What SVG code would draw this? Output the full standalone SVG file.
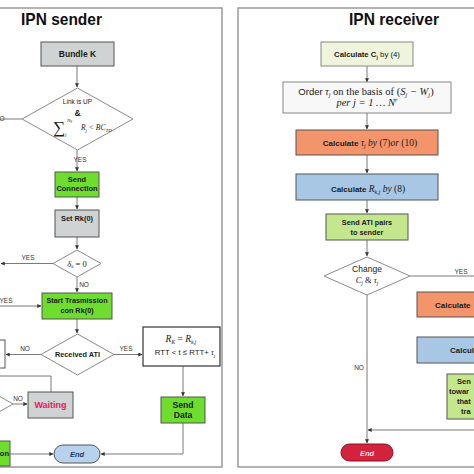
<svg xmlns="http://www.w3.org/2000/svg" width="474" height="474" viewBox="0 0 474 474">
<defs>
<marker id="ah" viewBox="0 0 6 6" refX="5.5" refY="3" markerWidth="4" markerHeight="4" orient="auto">
<path d="M0,0 L6,3 L0,6 z" fill="#333"/>
</marker>
<style>
.panel{fill:#fff;stroke:#9a9a9a;stroke-width:1.5}
.ln{fill:none;stroke:#7a7a7a;stroke-width:1}
.box{stroke:#555;stroke-width:1}
.gray{fill:#cfd3d3}
.green{fill:#6fdd2e}
.lgreen{fill:#c4e78e}
.pale{fill:#eef5dc}
.orange{fill:#f4946b}
.blue{fill:#a8c7e5}
.dia{fill:#fff;stroke:#8a8a8a;stroke-width:1}
.b{font-family:"Liberation Sans",Arial,sans-serif;font-weight:bold;fill:#1a1a1a;text-anchor:middle}
.r{font-family:"Liberation Sans",Arial,sans-serif;fill:#1a1a1a;text-anchor:middle}
.m{font-family:"Liberation Serif","Times New Roman",serif;font-style:italic;fill:#1a1a1a}
.lab{font-family:"Liberation Sans",Arial,sans-serif;font-size:6.5px;fill:#333;text-anchor:middle}
.title{font-family:"Liberation Sans",Arial,sans-serif;font-weight:bold;fill:#111}
</style>
</defs>
<rect width="474" height="474" fill="#fff"/>
<rect class="panel" x="-5" y="8" width="227" height="459"/>
<rect class="panel" x="238" y="8" width="245" height="459"/>
<text class="title" x="21" y="25" font-size="17" textLength="81" lengthAdjust="spacingAndGlyphs">IPN sender</text>
<text class="title" x="349" y="25" font-size="17" textLength="90" lengthAdjust="spacingAndGlyphs">IPN receiver</text>

<g id="connectors">
<path class="ln" d="M77,66 V87" marker-end="url(#ah)"/>
<path class="ln" d="M22,119 H-2"/>
<path class="ln" d="M77,150 V171" marker-end="url(#ah)"/>
<path class="ln" d="M77,197 V209" marker-end="url(#ah)"/>
<path class="ln" d="M77,237 V249" marker-end="url(#ah)"/>
<path class="ln" d="M53,263.5 H1" marker-end="url(#ah)"/>
<path class="ln" d="M77,277 V292" marker-end="url(#ah)"/>
<path class="ln" d="M-2,306 H41" marker-end="url(#ah)"/>
<path class="ln" d="M77,319 V333" marker-end="url(#ah)"/>
<path class="ln" d="M41,354.5 H6" marker-end="url(#ah)"/>
<path class="ln" d="M114,354.5 H142" marker-end="url(#ah)"/>
<path class="ln" d="M183,366 V396" marker-end="url(#ah)"/>
<path class="ln" d="M183,423 V454 H101" marker-end="url(#ah)"/>
<path class="ln" d="M10,454 H53" marker-end="url(#ah)"/>
<path class="ln" d="M51,392 V376 H-2"/>
<path class="ln" d="M13,404 H27" marker-end="url(#ah)"/>
<path class="ln" d="M367,66 V82" marker-end="url(#ah)"/>
<path class="ln" d="M367,113 V129" marker-end="url(#ah)"/>
<path class="ln" d="M367,155 V173" marker-end="url(#ah)"/>
<path class="ln" d="M367,200 V213" marker-end="url(#ah)"/>
<path class="ln" d="M367,240 V256" marker-end="url(#ah)"/>
<path class="ln" d="M410,276 H476"/>
<path class="ln" d="M367,295 V443" marker-end="url(#ah)"/>
<path class="ln" d="M476,430 H368" marker-end="url(#ah)"/>
<text class="lab" x="2" y="121">O</text>
<text class="lab" x="80" y="162">YES</text>
<text class="lab" x="28" y="260">YES</text>
<text class="lab" x="84" y="287">NO</text>
<text class="lab" x="6" y="303">YES</text>
<text class="lab" x="25" y="351">NO</text>
<text class="lab" x="126" y="351">YES</text>
<text class="lab" x="18" y="401">NO</text>
<text class="lab" x="461" y="274">YES</text>
<text class="lab" x="359" y="370">NO</text>
</g>

<g id="bundle">
<rect class="box gray" x="41" y="42" width="73" height="24"/>
<text class="b" x="77.5" y="57" font-size="8.5">Bundle K</text>
</g>
<g id="link-check">
<polygon class="dia" points="77.5,88 133,119 77.5,150 22,119"/>
<text class="r" x="77.5" y="104" font-size="6.5">Link is UP</text>
<text class="b" x="77.5" y="116" font-size="8.5">&amp;</text>
<text class="m" x="53" y="133" font-size="17" style="font-style:normal">∑</text>
<text class="m" x="67" y="122" font-size="5">N<tspan font-size="3.5" dy="1">0</tspan></text>
<text class="m" x="65" y="136" font-size="5">j</text>
<text class="m" x="81" y="130" font-size="7.5">R<tspan font-size="5" dy="1.5">j</tspan><tspan dy="-1.5"> &lt; BC</tspan><tspan font-size="5" dy="1.5">TD</tspan></text>
</g>
<g id="send-connection">
<rect class="box green" x="55" y="172" width="44" height="25"/>
<text class="b" x="77" y="182" font-size="7.5">Send</text>
<text class="b" x="77" y="191" font-size="7.5">Connection</text>
</g>
<g id="set-rk">
<rect class="box gray" x="55" y="210" width="44" height="27"/>
<text class="b" x="77" y="221" font-size="7.4">Set Rk(0)</text>
</g>
<g id="delta-check">
<polygon class="dia" points="77,250 101,263.5 77,277 53,263.5"/>
<text class="m" x="77" y="266.5" font-size="8.5" text-anchor="middle">δ<tspan font-size="5" dy="1.5">k</tspan><tspan dy="-1.5" style="font-style:normal"> = 0</tspan></text>
</g>
<g id="start-transmission">
<rect class="box green" x="42" y="293" width="70" height="26"/>
<text class="b" x="77" y="303" font-size="7.3">Start Trasmission</text>
<text class="b" x="77" y="313" font-size="7.3">con Rk(0)</text>
</g>
<g id="received-ati">
<polygon class="dia" points="77.5,334 114,354.5 77.5,375 41,354.5"/>
<text class="b" x="77.5" y="357" font-size="7.3">Received ATI</text>
</g>
<g id="left-box">
<rect class="box" x="-10" y="340" width="15" height="28" fill="#fff"/>
</g>
<g id="rk-box">
<rect x="143" y="327" width="77" height="39" fill="#fff" stroke="#333" stroke-width="1.2"/>
<text class="m" x="181" y="342" font-size="9.5" text-anchor="middle">R<tspan font-size="5.5" dy="1.5">K</tspan><tspan dy="-1.5" style="font-style:normal"> = </tspan>R<tspan font-size="5.5" dy="1.5">k,j</tspan></text>
<text class="r" x="185" y="355" font-size="7.8">RTT &lt; t ≤ RTT+ <tspan class="m">τ</tspan><tspan class="m" font-size="5" dy="1.5">j</tspan></text>
</g>
<g id="send-data">
<rect class="box green" x="161" y="397" width="44" height="26"/>
<text class="b" x="183" y="407.5" font-size="8.6">Send</text>
<text class="b" x="183" y="418" font-size="8.6">Data</text>
</g>
<g id="left-diamond">
<polyline points="-2,395.5 13,404 -2,412.5" fill="none" stroke="#8a8a8a" stroke-width="1"/>
</g>
<g id="waiting">
<rect class="box gray" x="28" y="392" width="45" height="26"/>
<text class="b" x="50.5" y="408" font-size="9" style="fill:#e8195a">Waiting</text>
</g>
<g id="left-green">
<rect class="box green" x="-30" y="441" width="40" height="25"/>
<text class="b" x="9" y="456" font-size="7.5" style="text-anchor:end">on</text>
</g>
<g id="end-sender">
<rect x="54" y="445" width="46" height="18" rx="9" fill="#b6d2ec" stroke="#555" stroke-width="1"/>
<text class="b" x="77" y="457" font-size="7.5" style="font-style:italic;fill:#1f3a6b">End</text>
</g>

<g id="calc-c">
<rect x="321" y="42" width="92" height="24" class="pale" stroke="#888" stroke-width="1"/>
<text class="b" x="367" y="57" font-size="7.8">Calculate C<tspan font-size="5" dy="1.5">j</tspan><tspan dy="-1.5" font-weight="normal">  by (4)</tspan></text>
</g>
<g id="order">
<rect x="283" y="82" width="168" height="31" fill="#f8f8f8" stroke="#888" stroke-width="1"/>
<text class="r" x="366" y="95" font-size="9.5">Order <tspan class="m">τ<tspan font-size="6.5" dy="2">j</tspan></tspan><tspan dy="-2" class="m" style="font-style:normal" font-size="10.5"> on the basis of (</tspan><tspan class="m" font-size="10.5">S<tspan font-size="6.5" dy="2">j</tspan><tspan dy="-2">  −  W</tspan><tspan font-size="6.5" dy="2">j</tspan></tspan><tspan dy="-2" class="m" style="font-style:normal" font-size="10.5">)</tspan></text>
<text class="m" x="367" y="105.5" font-size="10.5" text-anchor="middle">per  j = 1  …  N<tspan font-size="6.5" dy="-3.5">r</tspan></text>
</g>
<g id="calc-tau">
<rect class="box orange" x="296" y="130" width="142" height="25"/>
<text class="b" x="370" y="146" font-size="8">Calculate  <tspan class="m" font-weight="normal" font-size="9.5">τ<tspan font-size="6" dy="1.5">j</tspan><tspan dy="-1.5"> by </tspan><tspan style="font-style:normal">(7)</tspan>or<tspan style="font-style:normal"> (10)</tspan></tspan></text>
</g>
<g id="calc-r">
<rect class="box blue" x="296" y="174" width="142" height="26"/>
<text class="b" x="368" y="192" font-size="8">Calculate    <tspan class="m" font-weight="normal" font-size="9.5">R<tspan font-size="6" dy="1.5">k,j</tspan><tspan dy="-1.5"> by </tspan><tspan style="font-style:normal">(8)</tspan></tspan></text>
</g>
<g id="send-ati">
<rect class="box lgreen" x="326" y="214" width="82" height="26"/>
<text class="b" x="367" y="225" font-size="7.3">Send ATI pairs</text>
<text class="b" x="367" y="235" font-size="7.3">to sender</text>
</g>
<g id="change">
<polygon class="dia" points="367,257 410,276 367,295 324,276"/>
<text class="r" x="367" y="272" font-size="8.5">Change</text>
<text class="m" x="367" y="283" font-size="8.5" text-anchor="middle">C<tspan font-size="5.5" dy="1.5">j</tspan><tspan dy="-1.5" style="font-style:normal"> &amp;  </tspan>τ<tspan font-size="5.5" dy="1.5">j</tspan></text>
</g>
<g id="calc-tau-2">
<rect class="box orange" x="417" y="292" width="80" height="25"/>
<text class="b" x="435" y="308" font-size="8" style="text-anchor:start">Calculate</text>
</g>
<g id="calc-r-2">
<rect class="box blue" x="417" y="337" width="80" height="26"/>
<text class="b" x="450" y="353" font-size="8" style="text-anchor:start">Calcul</text>
</g>
<g id="send-towards">
<rect class="box lgreen" x="447" y="374" width="50" height="45"/>
<text class="b" x="457" y="384" font-size="7.5" style="text-anchor:start">Sen</text>
<text class="b" x="449" y="394" font-size="7.5" style="text-anchor:start">towar</text>
<text class="b" x="457" y="404" font-size="7.5" style="text-anchor:start">that</text>
<text class="b" x="461" y="414" font-size="7.5" style="text-anchor:start">tra</text>
</g>
<g id="end-receiver">
<rect x="341" y="444" width="52" height="17" rx="8.5" fill="#d3223b" stroke="#8a1020" stroke-width="1"/>
<text class="b" x="367" y="455.5" font-size="7.5" style="font-style:italic;fill:#fde">End</text>
</g>
</svg>
